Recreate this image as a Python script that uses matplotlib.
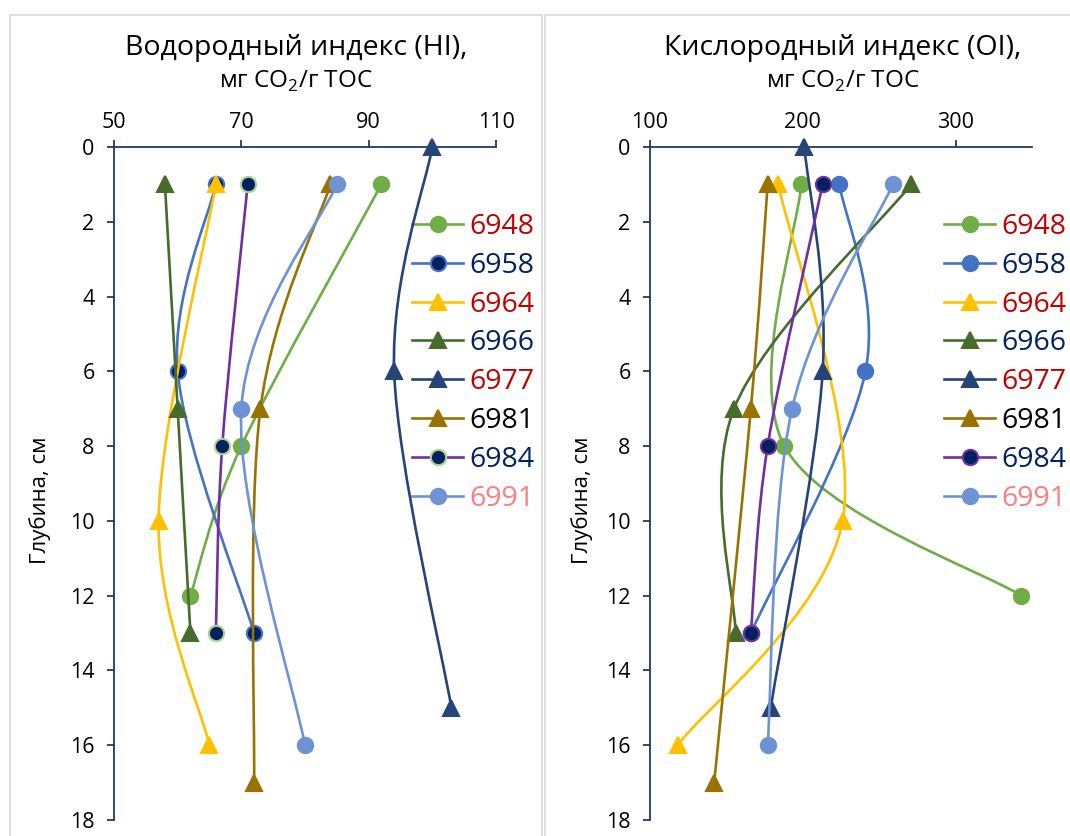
import numpy as np
import matplotlib
matplotlib.use("Agg")
import matplotlib.pyplot as plt
from matplotlib.path import Path
from matplotlib.patches import PathPatch, Rectangle
from matplotlib.lines import Line2D

plt.rcParams['font.family'] = ['Open Sans', 'DejaVu Sans']
plt.rcParams['mathtext.fontset'] = 'custom'
plt.rcParams['mathtext.rm'] = 'Open Sans'

wells = ['6948', '6958', '6964', '6966', '6977', '6981', '6984', '6991']

depth = {
    '6948': [1, 8, 12],
    '6958': [1, 6, 13],
    '6964': [1, 10, 16],
    '6966': [1, 7, 13],
    '6977': [0, 6, 15],
    '6981': [1, 7, 17],
    '6984': [1, 8, 13],
    '6991': [1, 7, 16],
}
hi = {
    '6948': [92, 70, 62],
    '6958': [66, 60, 72],
    '6964': [66, 57, 65],
    '6966': [58, 60, 62],
    '6977': [100, 94, 103],
    '6981': [84, 73, 72],
    '6984': [71, 67, 66],
    '6991': [85, 70, 80],
}
oi = {
    '6948': [199, 188, 343],
    '6958': [224, 241, 166],
    '6964': [184, 226, 118],
    '6966': [271, 155, 156],
    '6977': [201, 213, 179],
    '6981': [177, 166, 142],
    '6984': [213, 177, 166],
    '6991': [259, 193, 177],
}

hi_ticks = [50, 70, 90, 110]
oi_ticks = [100, 200, 300]
depth_ticks = list(range(0, 19, 2))

# line colour, marker, face/edge (left), face/edge (right), label colour
line_col = {'6948': '#70AD47', '6958': '#4472C4', '6964': '#FFC000', '6966': '#466B2D',
            '6977': '#264478', '6981': '#997300', '6984': '#7030A0', '6991': '#6D93D5'}
marker = {'6948': 'o', '6958': 'o', '6964': '^', '6966': '^',
          '6977': '^', '6981': '^', '6984': 'o', '6991': 'o'}
face_l = dict(line_col, **{'6958': '#002060', '6984': '#002060'})
edge_l = dict(line_col, **{'6958': '#4472C4', '6984': '#A9D18E'})
face_r = dict(line_col, **{'6984': '#002060'})
edge_r = dict(line_col, **{'6984': '#7030A0'})
label_col = {'6948': '#C00000', '6958': '#002060', '6964': '#C00000', '6966': '#002060',
             '6977': '#C00000', '6981': '#000000', '6984': '#002060', '6991': '#FF7C80'}

AXC = '#203864'
W, H = 1070, 836

fig = plt.figure(figsize=(W / 100, H / 100), dpi=100)

# chart area borders
fig.patches.append(Rectangle((10 / W, -0.05), 532 / W, 1.05 - 15 / H, transform=fig.transFigure,
                             fill=False, edgecolor='#D9D9D9', lw=1.2))
fig.patches.append(Rectangle((545 / W, -0.05), 540 / W, 1.05 - 15 / H, transform=fig.transFigure,
                             fill=False, edgecolor='#D9D9D9', lw=1.2))

ax1 = fig.add_axes([114 / W, 1 - 820 / H, 382 / W, 673 / H])
ax2 = fig.add_axes([650 / W, 1 - 820 / H, 382 / W, 673 / H])


def smooth_path(ax, xs, ys):
    # Excel-like smoothed line: Catmull-Rom bezier built in screen space
    pts = ax.transData.transform(np.column_stack([xs, ys]))
    n = len(pts)
    verts = [pts[0]]
    codes = [Path.MOVETO]
    for i in range(n - 1):
        p0 = pts[i - 1] if i > 0 else pts[i]
        p1, p2 = pts[i], pts[i + 1]
        p3 = pts[i + 2] if i + 2 < n else pts[i + 1]
        verts += [p1 + (p2 - p0) / 6, p2 - (p3 - p1) / 6, p2]
        codes += [Path.CURVE4] * 3
    return Path(ax.transData.inverted().transform(np.array(verts)), codes)


def setup(ax, xlim, xticks):
    ax.set_xlim(*xlim)
    ax.set_ylim(18, 0)
    ax.set_xticks(xticks)
    ax.set_yticks(depth_ticks)
    ax.xaxis.tick_top()
    for s in ['right', 'bottom']:
        ax.spines[s].set_visible(False)
    for s in ['top', 'left']:
        ax.spines[s].set_color(AXC)
        ax.spines[s].set_linewidth(1.3)
    ax.tick_params(axis='both', direction='out', length=5, width=1.3, color=AXC,
                   labelsize=15.5, labelcolor='black')
    ax.tick_params(axis='x', pad=5)
    ax.tick_params(axis='y', pad=9)
    ax.set_facecolor('none')


def draw(ax, values, face, edge, legend_x):
    handles = []
    for z, w in enumerate(wells):
        xs, ys = values[w], depth[w]
        ax.add_patch(PathPatch(smooth_path(ax, xs, ys), fill=False, edgecolor=line_col[w],
                               lw=1.9, zorder=3 + 2 * z, clip_on=False))
        ms = 11 if marker[w] == 'o' else 12
        ax.plot(xs, ys, ls='none', marker=marker[w], ms=ms, mfc=face[w], mec=edge[w],
                mew=1.5, zorder=4 + 2 * z, clip_on=False)
        handles.append(Line2D([], [], color=line_col[w], lw=1.9, marker=marker[w], ms=ms,
                              mfc=face[w], mec=edge[w], mew=1.5))
    leg = ax.legend(handles, wells, loc='upper left', bbox_to_anchor=(legend_x / W, 1 - 213 / H),
                    bbox_transform=fig.transFigure, frameon=False, fontsize=20.5,
                    handlelength=1.8, handletextpad=0.2, labelspacing=0.38,
                    borderpad=0, borderaxespad=0)
    for t, w in zip(leg.get_texts(), wells):
        t.set_color(label_col[w])


setup(ax1, (50, 110), hi_ticks)
setup(ax2, (100, 350), oi_ticks)
draw(ax1, hi, face_l, edge_l, 412)
draw(ax2, oi, face_r, edge_r, 944)

fig.text(296 / W, 1 - 55 / H, 'Водородный индекс (HI),', ha='center', va='baseline', fontsize=20.5)
fig.text(296 / W, 1 - 88 / H, r'мг CO$_\mathregular{2}$/г TOC', ha='center', va='baseline', fontsize=17.5)
fig.text(843 / W, 1 - 55 / H, 'Кислородный индекс (OI),', ha='center', va='baseline', fontsize=20.5)
fig.text(843 / W, 1 - 88 / H, r'мг CO$_\mathregular{2}$/г TOC', ha='center', va='baseline', fontsize=17.5)

fig.text(40 / W, 1 - 500 / H, 'Глубина, см', rotation=90, ha='center', va='center', fontsize=16)
fig.text(582 / W, 1 - 500 / H, 'Глубина, см', rotation=90, ha='center', va='center', fontsize=16)

fig.savefig('out.png', dpi=100, facecolor='white')
